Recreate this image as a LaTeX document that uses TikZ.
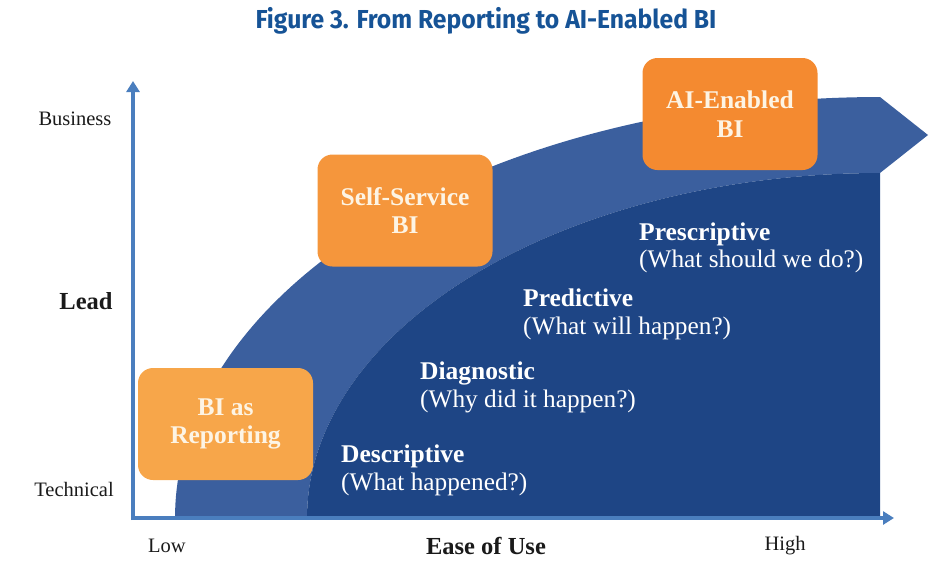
\documentclass[tikz,border=0pt]{standalone}
\usepackage{fontspec}
\setmainfont{Liberation Serif}
\newfontfamily\titlefont[FakeStretch=0.95]{Fira Sans}
\usetikzlibrary{arrows.meta}
\definecolor{titleblue}{RGB}{22,83,150}
\definecolor{axisblue}{RGB}{74,126,190}
\definecolor{bandblue}{RGB}{59,95,158}
\definecolor{darknavy}{RGB}{30,69,133}
\definecolor{orA}{RGB}{247,166,74}
\definecolor{orB}{RGB}{245,150,60}
\definecolor{orC}{RGB}{244,138,48}
\definecolor{cream}{RGB}{253,244,228}
\definecolor{labelink}{RGB}{26,26,26}
\tikzset{
  stagebox/.style={rounded corners=15pt, minimum width=175pt, minimum height=112pt,
    inner sep=0pt, align=center, text=cream, font=\bfseries\fontsize{25.5}{28.5}\selectfont},
  headlbl/.style={anchor=base west, text=white, inner sep=0pt, font=\bfseries\fontsize{25.5}{28}\selectfont},
  sublbl/.style={anchor=base west, text=white, inner sep=0pt, font=\fontsize{25.3}{28}\selectfont},
  axlbl/.style={text=labelink, inner sep=0pt, font=\fontsize{20.5}{24}\selectfont},
  axbold/.style={text=labelink, inner sep=0pt, font=\bfseries\fontsize{24.5}{28}\selectfont},
  axisline/.style={draw=axisblue, line width=4.5pt, -{Triangle[width=13pt,length=11pt]}}
}
\begin{document}
\begin{tikzpicture}[x=1pt,y=-1pt]
\useasboundingbox (0,0) rectangle (948,574);
% title
\node[anchor=base, inner sep=0pt, text=titleblue, font=\titlefont\bfseries\fontsize{26}{30}\selectfont] (title) at (486,28) {Figure 3. From Reporting to AI-Enabled BI};
% light band with pointed end
\fill[bandblue] plot[domain=0:90,samples=90] ({880-705*cos(\x)},{518-421*sin(\x)})
  -- (928,135) -- (880,173)
  -- plot[domain=90:0,samples=90] ({880-573*cos(\x)},{518-345*sin(\x)}) -- cycle;
% dark region
\fill[darknavy] plot[domain=0:90,samples=90] ({880-573*cos(\x)},{518-345*sin(\x)}) -- (880,518) -- cycle;
% axes
\coordinate (origin) at (133,520);
\coordinate (ytip) at (133,81);
\coordinate (xorigin) at (131,518);
\coordinate (xtip) at (894,518);
\draw[axisline] (origin) -- (ytip);
\draw[axisline] (xorigin) -- (xtip);
% boxes
\node[stagebox, fill=orA] (bir) at (225.5,424) {BI as\\Reporting};
\node[stagebox, fill=orB] (ssbi) at (405,210.5) {Self-Service\\BI};
\node[stagebox, fill=orC] (aibi) at (730,114) {AI-Enabled\\BI};
% stage labels
\node[headlbl] (desc) at (341,462) {Descriptive};
\node[sublbl] (descq) at (341,490) {(What happened?)};
\node[headlbl] (diag) at (420,379) {Diagnostic};
\node[sublbl] (diagq) at (420,407) {(Why did it happen?)};
\node[headlbl] (pred) at (523,306) {Predictive};
\node[sublbl] (predq) at (523,334) {(What will happen?)};
\node[headlbl] (presc) at (639,240) {Prescriptive};
\node[sublbl] (prescq) at (639,267) {(What should we do?)};
% axis labels
\node[axlbl] (bus) at (75,119) {Business};
\node[axlbl] (tech) at (74,489) {Technical};
\node[axbold] (lead) at (86,301) {Lead};
\node[axlbl] (low) at (167,546) {Low};
\node[axlbl] (high) at (785,546) {High};
\node[axbold] (ease) at (486,546) {Ease of Use};
\end{tikzpicture}
\end{document}
